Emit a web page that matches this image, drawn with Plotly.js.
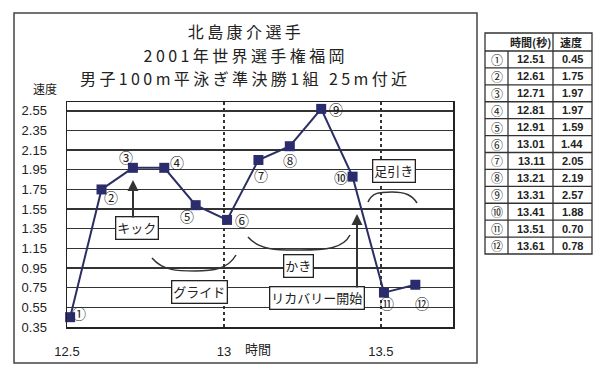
<!DOCTYPE html>
<html>
<head>
<meta charset="utf-8">
<script src="https://cdn.plot.ly/plotly-3.0.1.min.js"></script>
<style>
html,body{margin:0;padding:0;background:#fff;}
#chart{width:600px;height:374px;}
.annotation[data-index="0"] text,
.annotation[data-index="1"] text,
.annotation[data-index="2"] text{letter-spacing:3.4px;}
</style>
</head>
<body>
<div id="chart"></div>
<script>
// ---- data ----
const times  = [12.51, 12.61, 12.71, 12.81, 12.91, 13.01, 13.11, 13.21, 13.31, 13.41, 13.51, 13.61];
const speeds = [0.45, 1.75, 1.97, 1.97, 1.59, 1.44, 2.05, 2.19, 2.57, 1.88, 0.70, 0.78];
const pointLabels = ['①','②','③','④','⑤','⑥','⑦','⑧','⑨','⑩','⑪','⑫'];
const xTickVals = [12.5, 13, 13.5];
const xTickText = ['12.5', '13', '13.5'];
const titleLines = ['北島康介選手', '2001年世界選手権福岡', '男子100m平泳ぎ準決勝1組 25m付近'];
const tableHeader = ['時間(秒)', '速度'];
const phaseLabels = ['キック', 'グライド', 'かき', 'リカバリー開始', '足引き'];

// ---- style / layout helpers ----
const W = 600, H = 374;
const X = px => px / W;
const Y = py => 1 - py / H;
const labelOffsets = [[9,4],[9,-8],[-7,11],[13,6],[-9,-11],[15,0],[3,-15],[0,-14],[15,0],[-12,0],[3,-10],[7,-18]];
const FONT = 'Liberation Sans, Arial, sans-serif';
const JFONT = 'Noto Sans CJK JP, sans-serif';
const ink = '#222';

const trace = {
  x: times, y: speeds, type: 'scatter', mode: 'lines+markers',
  line: {color: '#2b2e62', width: 2},
  marker: {symbol: 'square', size: 10, color: '#2a2c6e', line: {width: 0}},
  hoverinfo: 'skip', cliponaxis: false
};

const annotations = [];
// title
titleLines.forEach((t, i) => {
  annotations.push({xref:'paper', yref:'paper', x: X(246), y: Y(31 + i*23.5), text: t, showarrow:false,
    xanchor:'center', yanchor:'middle', font:{family: JFONT, size: 16, color: ink}});
});
// axis titles
annotations.push({xref:'paper', yref:'paper', x: X(45), y: Y(88), text:'速度', showarrow:false,
  xanchor:'center', yanchor:'middle', font:{family: JFONT, size: 12, color: ink}});
annotations.push({xref:'paper', yref:'paper', x: X(258), y: Y(348), text:'時間', showarrow:false,
  xanchor:'center', yanchor:'middle', font:{family: JFONT, size: 13, color: ink}});
// point labels
times.forEach((t, i) => {
  annotations.push({xref:'x', yref:'y', x: t, y: speeds[i], text: pointLabels[i], showarrow:false,
    xshift: labelOffsets[i][0], yshift: labelOffsets[i][1], xanchor:'center', yanchor:'middle',
    font:{family: JFONT, size: 14, color: ink}});
});
// phase boxes
const boxCenters = [[137,228],[199,292],[298,266],[317,298],[394,171]];
phaseLabels.forEach((t, i) => {
  annotations.push({xref:'paper', yref:'paper', x: X(boxCenters[i][0]), y: Y(boxCenters[i][1]), text: t,
    showarrow:false, xanchor:'center', yanchor:'middle', bgcolor:'#fff', bordercolor: ink, borderwidth: 1.3,
    borderpad: 1, font:{family: JFONT, size: 13, color: ink}});
});
// arrows
[[133,219,133,180],[357,289,357,214]].forEach(a => {
  annotations.push({xref:'paper', yref:'paper', axref:'pixel', ayref:'pixel', x: X(a[2]), y: Y(a[3]),
    ax: a[0]-a[2], ay: a[1]-a[3], text:'', showarrow:true, arrowhead:2, arrowsize:1.1, arrowwidth:2, arrowcolor:'#333'});
});

// table
const tL = 485, tC1 = 508, tC2 = 553, tR = 592, tTop = 33, tHead = 51, tBot = 254;
const rowH = (tBot - tHead) / times.length;
const shapes = [];
const lineStyle = {color: '#333', width: 1.3};
shapes.push({type:'rect', xref:'paper', yref:'paper', x0:X(tL), x1:X(tR), y0:Y(tTop), y1:Y(tBot), line: lineStyle});
shapes.push({type:'line', xref:'paper', yref:'paper', x0:X(tC2), x1:X(tC2), y0:Y(tTop), y1:Y(tBot), line: lineStyle});
shapes.push({type:'line', xref:'paper', yref:'paper', x0:X(tC1), x1:X(tC1), y0:Y(tHead), y1:Y(tBot), line: lineStyle});
for (let i = 0; i < times.length; i++) {
  const yy = tHead + i*rowH;
  shapes.push({type:'line', xref:'paper', yref:'paper', x0:X(tL), x1:X(tR), y0:Y(yy), y1:Y(yy), line: lineStyle});
  const cy = Y(yy + rowH/2);
  annotations.push({xref:'paper', yref:'paper', x: X(496.5), y: cy, text: pointLabels[i], showarrow:false,
    xanchor:'center', yanchor:'middle', font:{family: JFONT, size: 12, color: ink}});
  annotations.push({xref:'paper', yref:'paper', x: X(531), y: cy, text: '<b>' + times[i].toFixed(2) + '</b>', showarrow:false,
    xanchor:'center', yanchor:'middle', font:{family: FONT, size: 11, color: ink}});
  annotations.push({xref:'paper', yref:'paper', x: X(572), y: cy, text: '<b>' + speeds[i].toFixed(2) + '</b>', showarrow:false,
    xanchor:'center', yanchor:'middle', font:{family: FONT, size: 11, color: ink}});
}
annotations.push({xref:'paper', yref:'paper', x: X(530), y: Y((tTop+tHead)/2), text: '<b>' + tableHeader[0] + '</b>', showarrow:false,
  xanchor:'center', yanchor:'middle', font:{family: JFONT, size: 11, color: ink}});
annotations.push({xref:'paper', yref:'paper', x: X(571), y: Y((tTop+tHead)/2), text: '<b>' + tableHeader[1] + '</b>', showarrow:false,
  xanchor:'center', yanchor:'middle', font:{family: JFONT, size: 11, color: ink}});

// chart frame
shapes.push({type:'rect', xref:'paper', yref:'paper', x0:X(14), x1:X(477), y0:Y(13), y1:Y(363), line:{color:'#444', width:1.5}});

// brackets
const pathFrom = pts => {
  let s = 'M ' + X(pts[0][0]) + ',' + Y(pts[0][1]);
  for (let i = 1; i < pts.length; i += 3) {
    s += ' C ' + [pts[i], pts[i+1], pts[i+2]].map(p => X(p[0]) + ',' + Y(p[1])).join(' ');
  }
  return s;
};
const brackets = [
  [[152,258],[163,271],[178,271],[195,271],[213,271],[228,269],[236,255]],
  [[248,237],[260,251],[280,250],[300,250],[325,250],[343,249],[350,235]],
  [[368,202],[372,193],[378,192],[392,192],[405,192],[412,195],[417,203]]
];
brackets.forEach(b => shapes.push({type:'path', xref:'paper', yref:'paper', path: pathFrom(b), line:{color:'#333', width:1.5}}));

const layout = {
  width: W, height: H,
  margin: {l:0, r:0, t:0, b:0},
  paper_bgcolor: '#fff', plot_bgcolor: '#fff',
  showlegend: false,
  xaxis: {
    domain: [X(67), X(453)], range: [12.5, 13.73],
    tickvals: xTickVals, ticktext: xTickText, ticks: '', ticklabelstandoff: 12,
    showgrid: true, gridcolor: '#333', gridwidth: 1.5, griddash: 'dot',
    showline: true, mirror: true, linecolor: '#222', linewidth: 1.5, zeroline: false,
    tickfont: {family: FONT, size: 13, color: ink}, fixedrange: true
  },
  yaxis: {
    domain: [1 - 327/H, 1 - 102/H], range: [0.35, 2.64],
    tick0: 0.35, dtick: 0.2, tickformat: '.2f', ticks: '', ticklabelstandoff: 16,
    showgrid: true, gridcolor: '#333', gridwidth: 1.4,
    showline: true, mirror: true, linecolor: '#222', linewidth: 1.5, zeroline: false,
    tickfont: {family: FONT, size: 13, color: ink}, fixedrange: true
  },
  annotations: annotations,
  shapes: shapes
};

Plotly.newPlot('chart', [trace], layout, {displayModeBar: false, staticPlot: true});
</script>
</body>
</html>
